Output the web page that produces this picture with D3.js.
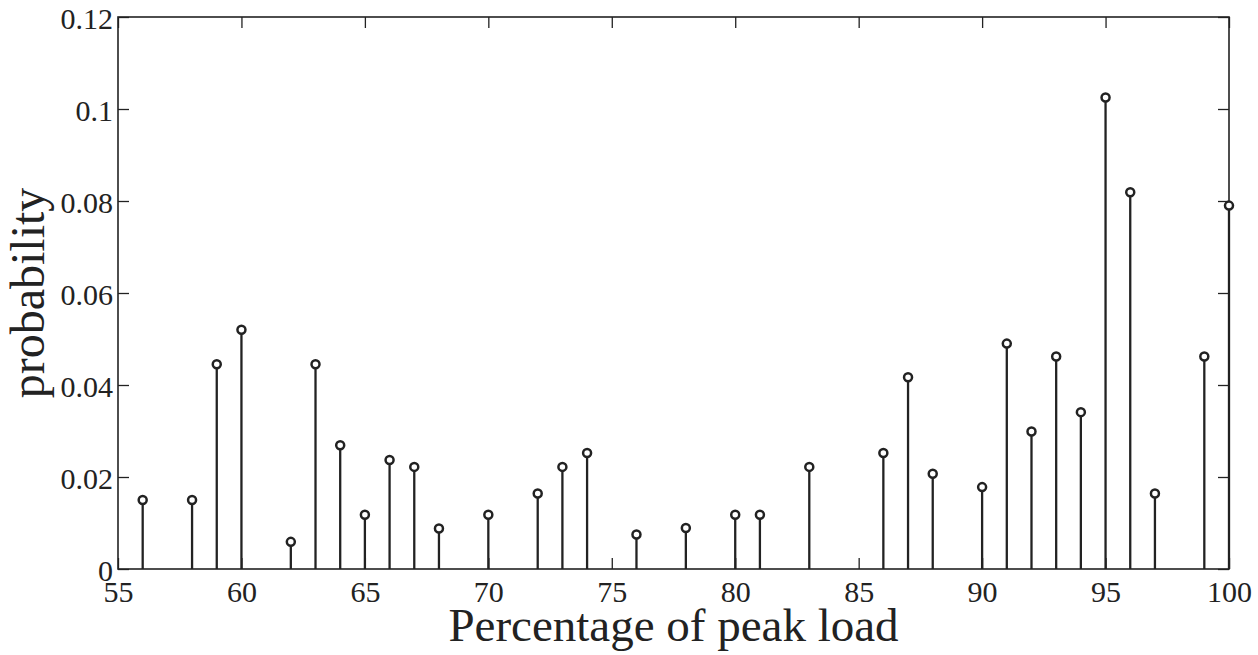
<!DOCTYPE html>
<html>
<head>
<meta charset="utf-8">
<script src="https://cdn.jsdelivr.net/npm/d3@7"></script>
<style>
  html, body { margin: 0; padding: 0; background: #fff; }
  svg { display: block; }
  svg text { font-family: "Liberation Serif", "Times New Roman", serif !important; fill: #222; }
</style>
</head>
<body>
<svg id="chart" width="1258" height="655"></svg>
<script>
const loads = [56, 58, 59, 60, 62, 63, 64, 65, 66, 67, 68, 70, 72, 73, 74, 76, 78, 80, 81, 83, 86, 87, 88, 90, 91, 92, 93, 94, 95, 96, 97, 99, 100];
const probabilities = [0.0150, 0.0150, 0.0445, 0.0520, 0.0059, 0.0445, 0.0269, 0.0118, 0.0237, 0.0222, 0.0088, 0.0118, 0.0164, 0.0222, 0.0252, 0.0075, 0.0089, 0.0118, 0.0118, 0.0222, 0.0252, 0.0417, 0.0207, 0.0178, 0.0490, 0.0299, 0.0462, 0.0341, 0.1025, 0.0819, 0.0164, 0.0462, 0.0790];
const xTicks = [55, 60, 65, 70, 75, 80, 85, 90, 95, 100];
const yTicks = [0, 0.02, 0.04, 0.06, 0.08, 0.1, 0.12];
const yTickLabels = ["0", "0.02", "0.04", "0.06", "0.08", "0.1", "0.12"];
const xTitle = "Percentage of peak load";
const yTitle = "probability";

(function () {
const svg = d3.select("#chart");
const m = { left: 118, right: 1258 - 1229, top: 17, bottom: 655 - 569 };
const W = 1258, H = 655;
const x = d3.scaleLinear().domain([55, 100]).range([m.left, W - m.right]);
const y = d3.scaleLinear().domain([0, 0.12]).range([H - m.bottom, m.top]);
const ink = "#222";
const tickLen = 11;
const serif = '"Liberation Serif", "Times New Roman", serif';

const data = loads.map((v, i) => ({ x: v, y: probabilities[i] }));

// stems
svg.append("g").selectAll("line").data(data).join("line")
  .attr("x1", d => x(d.x)).attr("x2", d => x(d.x))
  .attr("y1", y(0)).attr("y2", d => y(d.y))
  .attr("stroke", ink).attr("stroke-width", 2.3);

// axes (ticks inward on all sides)
const fs = 30;
const gBottom = svg.append("g").attr("transform", `translate(0,${y(0)})`)
  .call(d3.axisBottom(x).tickValues(xTicks).tickSize(-tickLen).tickPadding(12).tickFormat(d3.format("d")));
const gTop = svg.append("g").attr("transform", `translate(0,${y(0.12)})`)
  .call(d3.axisTop(x).tickValues(xTicks).tickSize(-tickLen).tickFormat(""));
const gLeft = svg.append("g").attr("transform", `translate(${x(55)},0)`)
  .call(d3.axisLeft(y).tickValues(yTicks).tickSize(-tickLen).tickPadding(5).tickFormat((d, i) => yTickLabels[i]));
const gRight = svg.append("g").attr("transform", `translate(${x(100)},0)`)
  .call(d3.axisRight(y).tickValues(yTicks).tickSize(-tickLen).tickFormat(""));

[gBottom, gTop, gLeft, gRight].forEach(g => {
  g.attr("font-family", serif).attr("font-size", fs);
  g.select(".domain").remove();
  g.selectAll(".tick line").attr("stroke", ink).attr("stroke-width", 1.3);
  g.selectAll(".tick text").attr("fill", ink);
});
gBottom.selectAll(".tick text").attr("dy", "0.71em");
gLeft.selectAll(".tick text").attr("dy", "0.38em");

// box
svg.append("rect")
  .attr("x", x(55)).attr("y", y(0.12))
  .attr("width", x(100) - x(55)).attr("height", y(0) - y(0.12))
  .attr("fill", "none").attr("stroke", ink).attr("stroke-width", 1.6);

// markers
svg.append("g").selectAll("circle").data(data).join("circle")
  .attr("cx", d => x(d.x)).attr("cy", d => y(d.y)).attr("r", 4)
  .attr("fill", "#fff").attr("stroke", ink).attr("stroke-width", 2.5);

// titles
svg.append("text").attr("x", (x(55) + x(100)) / 2).attr("y", 641)
  .attr("text-anchor", "middle").attr("font-family", serif).style("font-size", "47px").text(xTitle);
svg.append("text").attr("transform", `translate(44,${(y(0) + y(0.12)) / 2}) rotate(-90)`)
  .attr("text-anchor", "middle").attr("font-family", serif).style("font-size", "48px").text(yTitle);
})();
</script>
</body>
</html>
